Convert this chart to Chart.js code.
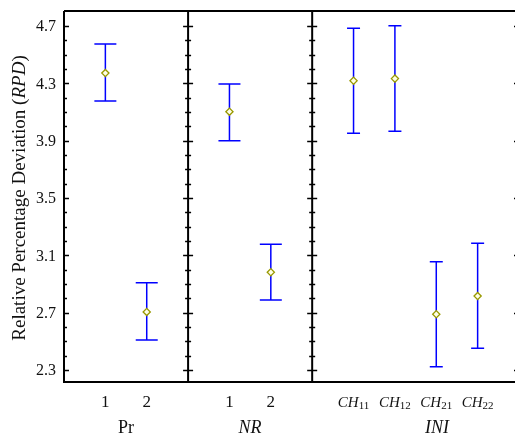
<!DOCTYPE html>
<html><head><meta charset="utf-8">
<script src="https://cdn.jsdelivr.net/npm/chart.js@4/dist/chart.umd.min.js"></script>
<style>html,body{margin:0;padding:0;overflow:hidden;background:#fff;width:515px;height:435px}canvas{display:block}</style>
</head><body>
<canvas id="c" width="530" height="435"></canvas>
<script>
// ---- data ----
const groups = ['Pr', 'NR', 'INI'];
const groupCategories = [['1', '2'], ['1', '2'], ['CH11', 'CH12', 'CH21', 'CH22']];
const means = [4.372, 2.705, 4.102, 2.982, 4.318, 4.333, 2.689, 2.816];
const upper = [4.574, 2.909, 4.295, 3.177, 4.684, 4.702, 3.056, 3.184];
const lower = [4.177, 2.509, 3.900, 2.788, 3.951, 3.965, 2.323, 2.451];
const yTicks = [2.3, 2.7, 3.1, 3.5, 3.9, 4.3, 4.7];
const yTitle = ['Relative Percentage Deviation (', 'RPD', ')'];

// ---- derived layout on the x value axis (each panel spans count+1 units) ----
const panelEdges = [0];
const xPos = [], catLabel = [], catPanel = [];
groupCategories.forEach((cats, g) => {
  const start = panelEdges[panelEdges.length - 1];
  cats.forEach((c, i) => { xPos.push(start + i + 1); catLabel.push(c); catPanel.push(g); });
  panelEdges.push(start + cats.length + 1);
});
const xMax = panelEdges[panelEdges.length - 1];

const SERIF = '"Liberation Serif","Times New Roman",serif';
const capHalf = [11, 11, 6.5];

const drawPlugin = {
  id: 'panels',
  beforeDatasetsDraw(chart) {
    const ctx = chart.ctx, xs = chart.scales.x, ys = chart.scales.y;
    ctx.save();
    ctx.strokeStyle = '#0000ff';
    ctx.lineWidth = 1.5;
    means.forEach((m, i) => {
      const x = xs.getPixelForValue(xPos[i]);
      const yt = ys.getPixelForValue(upper[i]);
      const yb = ys.getPixelForValue(lower[i]);
      const h = capHalf[catPanel[i]];
      ctx.beginPath();
      ctx.moveTo(x, yt); ctx.lineTo(x, yb);
      ctx.moveTo(x - h, yt); ctx.lineTo(x + h, yt);
      ctx.moveTo(x - h, yb); ctx.lineTo(x + h, yb);
      ctx.stroke();
    });
    ctx.restore();
  },
  afterDatasetsDraw(chart) {
    const ctx = chart.ctx, xs = chart.scales.x, ys = chart.scales.y;
    const a = chart.chartArea;
    ctx.save();
    // frame
    ctx.strokeStyle = '#000';
    ctx.lineWidth = 2;
    ctx.beginPath();
    ctx.moveTo(a.left, a.top); ctx.lineTo(a.right, a.top);
    ctx.moveTo(a.left - 1, a.bottom); ctx.lineTo(a.right, a.bottom);
    panelEdges.forEach(v => {
      const x = xs.getPixelForValue(v);
      ctx.moveTo(x, a.top); ctx.lineTo(x, a.bottom);
    });
    ctx.stroke();
    // ticks
    ctx.lineWidth = 1.4;
    ctx.beginPath();
    for (let k = 23; k <= 47; k++) {
      const v = k / 10;
      const major = yTicks.some(t => Math.abs(t - v) < 1e-6);
      const len = major ? 5 : 3;
      const y = Math.round(ys.getPixelForValue(v)) + 0.5;
      panelEdges.forEach((e, j) => {
        const x = xs.getPixelForValue(e);
        if (j === 0) { ctx.moveTo(x, y); ctx.lineTo(x + len, y); }
        else if (j === panelEdges.length - 1) { ctx.moveTo(x - len, y); ctx.lineTo(x, y); }
        else { ctx.moveTo(x - len, y); ctx.lineTo(x + len, y); }
      });
    }
    ctx.stroke();
    // y tick labels
    ctx.fillStyle = '#111';
    ctx.font = '16px ' + SERIF;
    ctx.textAlign = 'right';
    ctx.textBaseline = 'middle';
    yTicks.forEach(t => ctx.fillText(t.toFixed(1), a.left - 8, ys.getPixelForValue(t) + 1));
    // x category labels
    ctx.textBaseline = 'alphabetic';
    catLabel.forEach((lab, i) => {
      const x = xs.getPixelForValue(xPos[i]);
      const m = lab.match(/^([A-Za-z]+)(\d+)$/);
      if (m) {
        ctx.font = 'italic 15px ' + SERIF;
        const w1 = ctx.measureText(m[1]).width;
        ctx.font = '11px ' + SERIF;
        const w2 = ctx.measureText(m[2]).width;
        const x0 = x - (w1 + w2) / 2;
        ctx.textAlign = 'left';
        ctx.font = 'italic 15px ' + SERIF;
        ctx.fillText(m[1], x0, 407);
        ctx.font = '11px ' + SERIF;
        ctx.fillText(m[2], x0 + w1, 409);
      } else {
        ctx.textAlign = 'center';
        ctx.font = '17px ' + SERIF;
        ctx.fillText(lab, x, 407);
      }
    });
    // group titles
    ctx.textAlign = 'center';
    const gx = [126, 250, 437];
    groups.forEach((g, j) => {
      ctx.font = (j === 0 ? '' : 'italic ') + '18px ' + SERIF;
      ctx.fillText(g, gx[j], 433);
    });
    // y title
    ctx.translate(20, 198);
    ctx.rotate(-Math.PI / 2);
    const fonts = ['19px ' + SERIF, 'italic 19px ' + SERIF, '19px ' + SERIF];
    let total = 0;
    const widths = yTitle.map((s, i) => { ctx.font = fonts[i]; const w = ctx.measureText(s).width; total += w; return w; });
    let cx = -total / 2;
    ctx.textAlign = 'left';
    ctx.textBaseline = 'middle';
    yTitle.forEach((s, i) => { ctx.font = fonts[i]; ctx.fillText(s, cx, 0); cx += widths[i]; });
    ctx.restore();
  }
};

new Chart(document.getElementById('c'), {
  type: 'scatter',
  data: {
    datasets: [{
      data: means.map((m, i) => ({ x: xPos[i], y: m })),
      pointStyle: 'rectRot',
      pointRadius: 3.6,
      pointHoverRadius: 3.6,
      borderColor: '#999900',
      backgroundColor: '#ffffe6',
      borderWidth: 1.3
    }]
  },
  options: {
    responsive: false,
    devicePixelRatio: 1,
    animation: false,
    events: [],
    layout: { padding: { left: 64, right: 11, top: 11, bottom: 53 } },
    plugins: { legend: { display: false }, tooltip: { enabled: false } },
    scales: {
      x: { type: 'linear', min: 0, max: xMax, display: false },
      y: { type: 'linear', min: 2.2163, max: 4.8047, display: false }
    }
  },
  plugins: [drawPlugin]
});
</script>
</body></html>
